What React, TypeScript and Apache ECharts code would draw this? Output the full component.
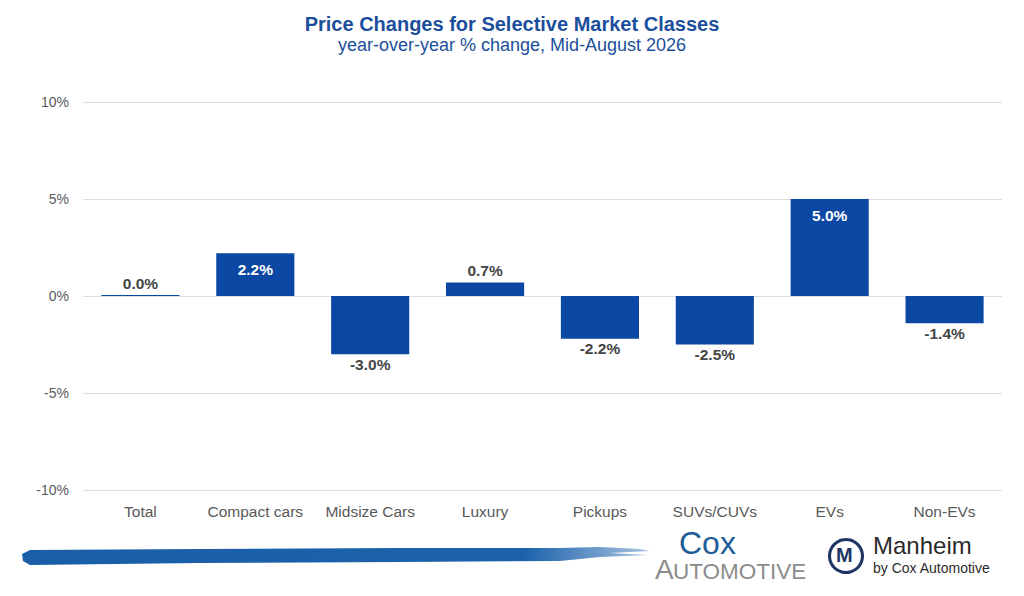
import { useEffect, useRef } from 'react';
import * as echarts from 'echarts';

const categories = ['Total', 'Compact cars', 'Midsize Cars', 'Luxury', 'Pickups', 'SUVs/CUVs', 'EVs', 'Non-EVs'];
const changes = [0.0, 2.2, -3.0, 0.7, -2.2, -2.5, 5.0, -1.4];
const yTicks = { min: -10, max: 10, interval: 5 };

const BLUE = '#0b48a3';
const DARK = '#444444';
const FONT = 'Liberation Sans, Arial, sans-serif';
const NARROW = 'Liberation Sans Narrow, Liberation Sans, Arial, sans-serif';

const App = () => {
  const chartRef = useRef<HTMLDivElement>(null);

  useEffect(() => {
    if (!chartRef.current) return;
    const chart = echarts.init(chartRef.current, null, { renderer: 'svg' });

    const barData = changes.map((v) => {
      let label: any;
      if (v >= 1.5) {
        label = { position: 'insideTop', color: '#ffffff', distance: 8 };
      } else if (v >= 0) {
        label = { position: 'top', color: DARK, distance: 4 };
      } else {
        label = { position: 'bottom', color: DARK, distance: 2 };
      }
      return { value: v, label };
    });

    const option: echarts.EChartsOption = {
      animation: false,
      backgroundColor: '#ffffff',
      title: {
        text: 'Price Changes for Selective Market Classes',
        subtext: 'year-over-year % change, Mid-August 2026',
        left: 'center',
        top: 9,
        itemGap: 2,
        textStyle: {
          color: '#1b4f9b',
          fontSize: 20,
          fontWeight: 'bold',
          fontFamily: FONT,
        },
        subtextStyle: {
          color: '#1b4f9b',
          fontSize: 18,
          fontFamily: FONT,
        },
      },
      grid: { left: 83, right: 22, top: 102, bottom: 106 },
      xAxis: {
        type: 'category',
        data: categories,
        axisLine: { show: false },
        axisTick: { show: false },
        axisLabel: {
          color: '#595959',
          fontSize: 15.5,
          margin: 13,
          fontFamily: FONT,
          interval: 0,
        },
      },
      yAxis: {
        type: 'value',
        min: yTicks.min,
        max: yTicks.max,
        interval: yTicks.interval,
        axisLine: { show: false },
        axisTick: { show: false },
        splitLine: { lineStyle: { color: '#dedede', width: 1 } },
        axisLabel: {
          formatter: '{value}%',
          color: '#595959',
          fontSize: 14,
          margin: 14,
          fontFamily: FONT,
        },
      },
      series: [
        {
          type: 'bar',
          data: barData,
          barWidth: '68%',
          barMinHeight: 1,
          itemStyle: { color: BLUE },
          label: {
            show: true,
            fontSize: 15.5,
            fontWeight: 'bold',
            fontFamily: FONT,
            formatter: (p: any) => `${Number(p.value).toFixed(1)}%`,
          },
        },
      ],
      graphic: [
        {
          type: 'polygon',
          shape: {
            points: [
              [30, 550], [200, 549], [400, 548], [560, 548], [600, 547], [640, 549],
              [650, 551], [610, 553], [648, 555], [600, 557], [560, 561],
              [400, 562], [200, 563], [30, 565], [23, 561], [22, 554],
            ],
          },
          style: {
            fill: new echarts.graphic.LinearGradient(0, 0, 1, 0, [
              { offset: 0, color: '#1a5ea8' },
              { offset: 0.8, color: '#1c62ab' },
              { offset: 1, color: '#a9c4e2' },
            ]),
          },
        },
        {
          type: 'text',
          left: 679,
          top: 527,
          style: { text: 'Cox', fill: '#1f5e98', fontSize: 32, fontFamily: NARROW },
        },
        {
          type: 'text',
          left: 655,
          top: 555,
          style: { text: 'A', fill: '#8c8c8c', fontSize: 28, fontFamily: NARROW },
        },
        {
          type: 'text',
          left: 673,
          top: 560,
          style: { text: 'UTOMOTIVE', fill: '#8c8c8c', fontSize: 22.5, fontFamily: NARROW },
        },
        {
          type: 'ring',
          shape: { cx: 846, cy: 556, r: 18, r0: 15 },
          style: { fill: '#1e3566' },
        },
        {
          type: 'text',
          left: 836,
          top: 545,
          style: { text: 'M', fill: '#1e3566', fontSize: 20, fontWeight: 'bold', fontFamily: NARROW },
        },
        {
          type: 'text',
          left: 873,
          top: 533,
          style: { text: 'Manheim', fill: '#2b2b2b', fontSize: 24, fontFamily: NARROW },
        },
        {
          type: 'text',
          left: 873,
          top: 561,
          style: { text: 'by Cox Automotive', fill: '#2b2b2b', fontSize: 14, fontFamily: FONT },
        },
      ],
    };

    chart.setOption(option);
    return () => chart.dispose();
  }, []);

  return (
    <div
      ref={chartRef}
      style={{ position: 'fixed', left: 0, top: 0, width: 1024, height: 596 }}
    />
  );
};

export default App;
